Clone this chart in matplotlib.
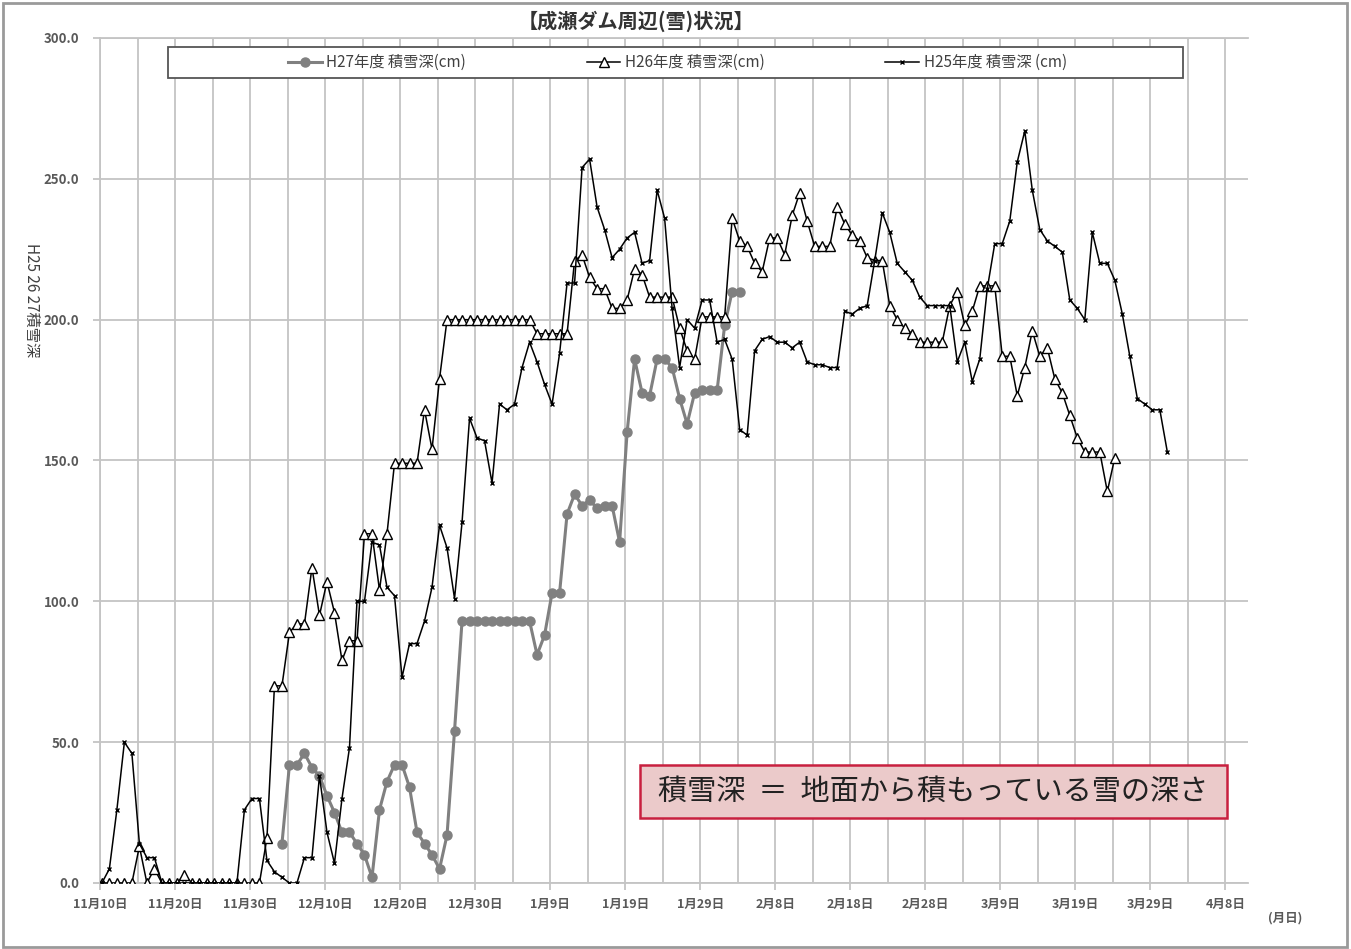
import matplotlib
matplotlib.use("Agg")
import matplotlib.pyplot as plt
from matplotlib.patches import Rectangle
import numpy as np

plt.rcParams['font.family'] = ['Noto Sans CJK JP', 'DejaVu Sans']

# days counted from 11/10
tick_days = list(range(0, 151, 10))
tick_labels = ["11月10日", "11月20日", "11月30日", "12月10日", "12月20日", "12月30日",
               "1月9日", "1月19日", "1月29日", "2月8日", "2月18日", "2月28日",
               "3月9日", "3月19日", "3月29日", "4月8日"]

# H25 snow depth (cm), from 11/10
h25_start = 0
h25 = [0, 5, 26, 50, 46, 14, 9, 9, 0, 0,
       0, 0, 0, 0, 0, 0, 0, 0, 0, 26,
       30, 30, 8, 4, 2, 0, 0, 9, 9, 38,
       18, 7, 30, 48, 100, 100, 121, 120, 105, 102,
       73, 85, 85, 93, 105, 127, 119, 101, 128, 165,
       158, 157, 142, 170, 168, 170, 183, 192, 185, 177,
       170, 188, 213, 213, 254, 257, 240, 232, 222, 225,
       229, 231, 220, 221, 246, 236, 204, 183, 200, 197,
       207, 207, 192, 193, 186, 161, 159, 189, 193, 194,
       192, 192, 190, 192, 185, 184, 184, 183, 183, 203,
       202, 204, 205, 221, 238, 231, 220, 217, 214, 208,
       205, 205, 205, 205, 185, 192, 178, 186, 211, 227,
       227, 235, 256, 267, 246, 232, 228, 226, 224, 207,
       204, 200, 231, 220, 220, 214, 202, 187, 172, 170,
       168, 168, 153]

# H26 snow depth (cm), from 11/10
h26_start = 0
h26 = [0, 0, 0, 0, 0, 13, 0, 5, 0, 0,
       0, 3, 0, 0, 0, 0, 0, 0, 0, 0,
       0, 0, 16, 70, 70, 89, 92, 92, 112, 95,
       107, 96, 79, 86, 86, 124, 124, 104, 124, 149,
       149, 149, 149, 168, 154, 179, 200, 200, 200, 200,
       200, 200, 200, 200, 200, 200, 200, 200, 195, 195,
       195, 195, 195, 221, 223, 215, 211, 211, 204, 204,
       207, 218, 216, 208, 208, 208, 208, 197, 189, 186,
       201, 201, 201, 201, 236, 228, 226, 220, 217, 229,
       229, 223, 237, 245, 235, 226, 226, 226, 240, 234,
       230, 228, 222, 221, 221, 205, 200, 197, 195, 192,
       192, 192, 192, 205, 210, 198, 203, 212, 212, 212,
       187, 187, 173, 183, 196, 187, 190, 179, 174, 166,
       158, 153, 153, 153, 139, 151]

# H27 snow depth (cm), from 12/4
h27_start = 24
h27 = [14, 42, 42, 46, 41, 38, 31, 25, 18, 18,
       14, 10, 2, 26, 36, 42, 42, 34, 18, 14,
       10, 5, 17, 54, 93, 93, 93, 93, 93, 93,
       93, 93, 93, 93, 81, 88, 103, 103, 131, 138,
       134, 136, 133, 134, 134, 121, 160, 186, 174, 173,
       186, 186, 183, 172, 163, 174, 175, 175, 175, 198,
       210, 210]

W, H = 1351, 949
fig = plt.figure(figsize=(W / 100, H / 100), dpi=100)
ax = fig.add_axes([100 / W, 66 / H, 1148 / W, 845 / H])

grid_c = "#c4c4c4"
txt_c = "#595959"

# points sit a little right of the day gridline, as in the original
shift = 0.25
ax.plot(np.arange(h27_start, h27_start + len(h27)) + shift, h27, color="#808080", lw=2.2,
        marker="o", ms=6.5, mfc="#808080", mec="#808080", zorder=3,
        label="H27年度 積雪深(cm)")
ax.plot(np.arange(h26_start, h26_start + len(h26)) + shift, h26, color="black", lw=1.1,
        marker="^", ms=7, mfc="white", mec="black", mew=1.0, zorder=4,
        label="H26年度 積雪深(cm)")
ax.plot(np.arange(h25_start, h25_start + len(h25)) + shift, h25, color="black", lw=1.1,
        marker="x", ms=3, mew=1.0, zorder=5,
        label="H25年度 積雪深 (cm)")

ax.set_xlim(0, 153)
ax.set_ylim(0, 300)
ax.set_xticks(tick_days)
ax.set_xticklabels(tick_labels, fontsize=9, color=txt_c, fontweight="bold")
ax.set_xticks(np.arange(5, 151, 10), minor=True)
ax.set_yticks(np.arange(0, 301, 50))
ax.set_yticklabels(["%.1f" % v for v in np.arange(0, 301, 50)], fontsize=9.5,
                   color=txt_c, fontweight="bold")
ax.tick_params(axis="x", which="major", length=5, color=grid_c, width=1.3, pad=6)
ax.tick_params(axis="x", which="minor", length=0)
ax.tick_params(axis="y", length=5, color=grid_c, width=1.3, pad=10)
ax.grid(True, which="both", axis="x", color=grid_c, lw=1.3, zorder=0)
ax.grid(True, which="major", axis="y", color=grid_c, lw=1.3, zorder=0)
ax.set_axisbelow(True)
for side in ["left", "bottom", "top"]:
    ax.spines[side].set_color(grid_c)
    ax.spines[side].set_linewidth(1.3)
ax.spines["right"].set_visible(False)

# legend box across the top
ax.add_patch(Rectangle((0.0592, 0.9527), 0.884, 0.0366, transform=ax.transAxes,
                       facecolor="white", edgecolor="#555555", lw=1.3, zorder=6))
leg = ax.legend(loc="center", bbox_to_anchor=(0.503, 0.971), ncol=3, frameon=False,
                fontsize=11, handlelength=2.2, handletextpad=0.3, columnspacing=7.9)
leg.set_zorder(7)
for t in leg.get_texts():
    t.set_color("#404040")

# note box
ax.add_patch(Rectangle((0.4704, 0.0769), 0.5113, 0.0627, transform=ax.transAxes,
                       facecolor="#ebcaca", edgecolor="#c8203f", lw=1.8, zorder=6))
ax.text(0.726, 0.108, "積雪深  ＝  地面から積もっている雪の深さ", transform=ax.transAxes,
        ha="center", va="center", fontsize=21, color="#222222", zorder=7)

fig.text(636 / W, 1 - 21 / H, "【成瀬ダム周辺(雪)状況】", ha="center", va="center",
         fontsize=14.5, fontweight="bold", color="#333333")
fig.text(32 / W, 1 - 300 / H, "H25 26 27積雪深", rotation=270, ha="center", va="center",
         fontsize=11, color="#404040")
fig.text(1285 / W, 1 - 918 / H, "(月日)", ha="center", va="center", fontsize=9,
         color=txt_c, fontweight="bold")

# outer frame
fig.add_artist(Rectangle((3 / W, 2 / H), 1344 / W, 944 / H, transform=fig.transFigure,
                         facecolor="none", edgecolor="#9a9a9a", lw=2))

fig.savefig("out.png", dpi=100)
